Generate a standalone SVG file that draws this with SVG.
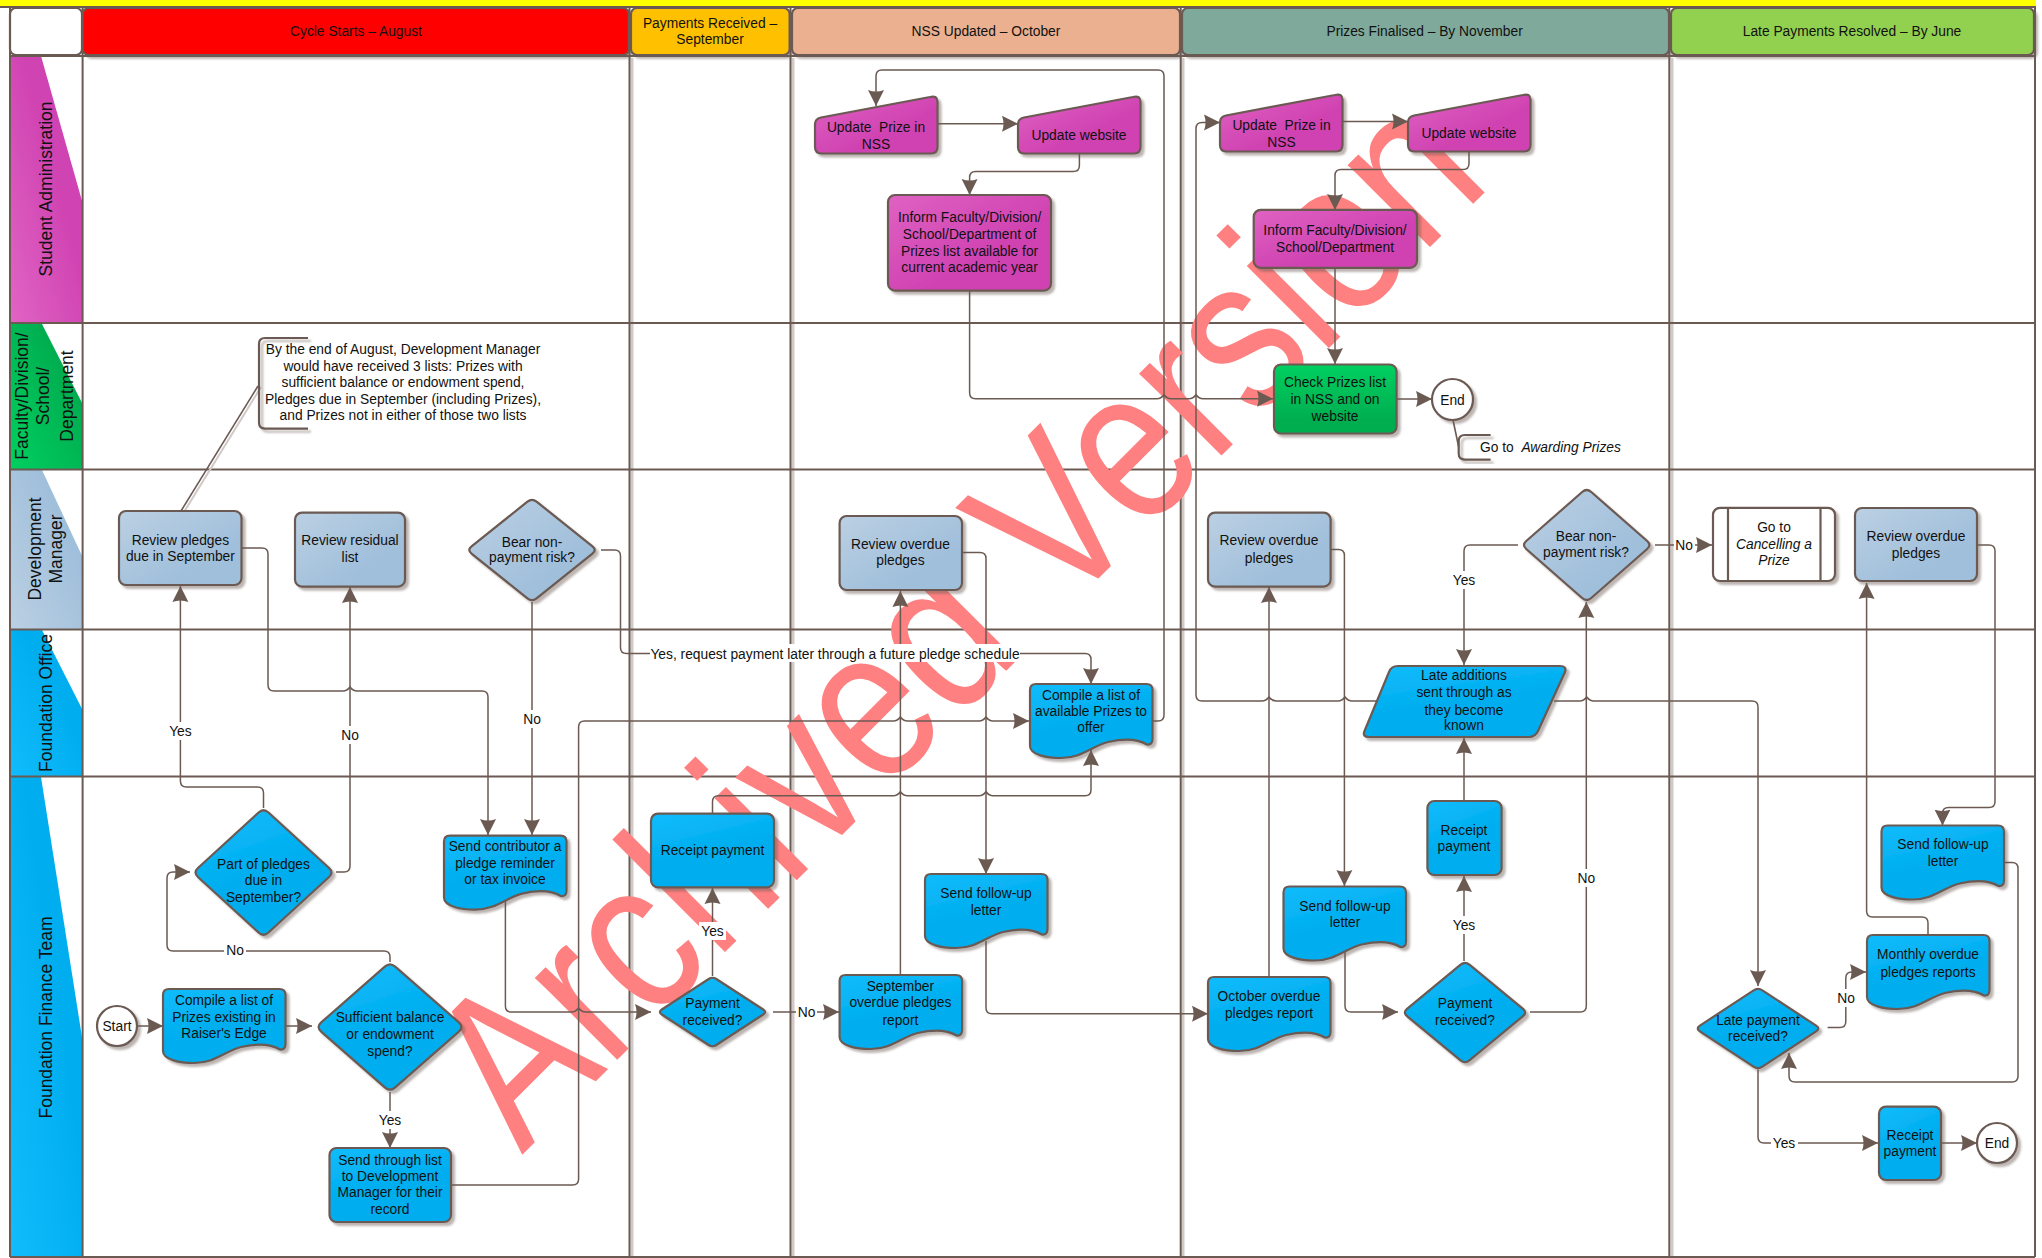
<svg xmlns="http://www.w3.org/2000/svg" width="2042" height="1258" viewBox="0 0 2042 1258">
<style>
text{font-family:"Liberation Sans",Arial,sans-serif;font-size:13.8px;fill:#111;text-anchor:middle}
.sh{filter:url(#ds)}
.o{stroke:#6B5A52;stroke-width:2.2;stroke-linejoin:round}
.b{fill:url(#gb)}.g{fill:url(#gg)}.m{fill:url(#gm)}.e{fill:url(#ge)}.w{fill:#fff}
.c{fill:none;stroke:#6B5A52;stroke-width:1.5;marker-end:url(#a)}
.gr{fill:none;stroke:#6B5A52;stroke-width:2}
.gs{fill:none;stroke:#CFCAC7;stroke-width:3}
.lb{fill:#fff}
.lane{font-size:17.5px}
.i{font-style:italic}
</style>
<defs>
<linearGradient id="gb" x1="0" y1="0" x2="0.4" y2="1"><stop offset="0" stop-color="#12BCFC"/><stop offset=".6" stop-color="#00AEEF"/></linearGradient>
<linearGradient id="gg" x1="0" y1="0" x2="1" y2="1"><stop offset="0" stop-color="#BBD0E3"/><stop offset=".7" stop-color="#A0BFDB"/></linearGradient>
<linearGradient id="gm" x1="0" y1="0" x2="1" y2="1"><stop offset="0" stop-color="#DF62C2"/><stop offset=".6" stop-color="#D043B2"/></linearGradient>
<linearGradient id="ge" x1="0" y1="0" x2="0" y2="1"><stop offset="0" stop-color="#00D060"/><stop offset=".8" stop-color="#00AE50"/></linearGradient>
<linearGradient id="lm" x1="0" y1="1" x2="1" y2="0"><stop offset="0" stop-color="#E065C4"/><stop offset=".6" stop-color="#D043B2"/></linearGradient>
<linearGradient id="lf" x1="0" y1="1" x2="1" y2="0"><stop offset="0" stop-color="#00D060"/><stop offset=".7" stop-color="#00AE50"/></linearGradient>
<linearGradient id="ld" x1="0" y1="1" x2="1" y2="0"><stop offset="0" stop-color="#BBD0E3"/><stop offset=".7" stop-color="#A0BFDB"/></linearGradient>
<linearGradient id="lb" x1="0" y1="1" x2="1" y2="0"><stop offset="0" stop-color="#12BCFC"/><stop offset=".6" stop-color="#00AEEF"/></linearGradient>
<filter id="ds" x="-10%" y="-10%" width="125%" height="125%"><feDropShadow dx="3" dy="3" stdDeviation="1.2" flood-color="#6B5A52" flood-opacity=".45"/></filter>
<marker id="a" markerUnits="userSpaceOnUse" markerWidth="17" markerHeight="17" viewBox="0 0 17 17" refX="16" refY="8.5" orient="auto"><path d="M0 .5L16 8.5L0 16.5Q3 8.5 0 .5Z" fill="#6B5A52"/></marker>
<path id="doc" d="M6 0H116.5Q122.5 0 122.5 6V55Q122.5 61 117 60.5C108 55 95 54 78 58C62 62 52 74 31 74C18 74 0 71 0 62V6Q0 0 6 0Z"/>
<path id="man" d="M0 28Q0 23 6 21.5L115 1Q122.5 -1 122.5 6V51Q122.5 57.5 116 57.5H6.5Q0 57.5 0 51Z"/>
</defs>
<rect width="2042" height="1258" fill="#fff"/>
<g id="swimlanes">
<rect x="0" y="0" width="2036" height="7" fill="#FFFF00"/>
<path class="gs" d="M632 58V1258M793 58V1258M1183 58V1258M1672 58V1258"/>
<g id="lane-headers">
<rect x="10" y="56" width="72.600" height="267" fill="url(#lm)"/><path d="M41 56H82.600V203Z" fill="#fff"/>
<rect x="10" y="324" width="72.600" height="145" fill="url(#lf)"/><path d="M42 324H82.600V404Z" fill="#fff"/>
<rect x="10" y="470" width="72.600" height="159" fill="url(#ld)"/><path d="M42 470H82.600V557Z" fill="#fff"/>
<rect x="10" y="630" width="72.600" height="146" fill="url(#lb)"/><path d="M42 630H82.600V710Z" fill="#fff"/>
<rect x="10" y="777" width="72.600" height="480" fill="url(#lb)"/><path d="M41 777H82.600V1041Z" fill="#fff"/>
</g>
<path class="gr" d="M0 7H2036M10 56H2035M10 323H2035M10 469.400H2035M10 629.400H2035M10 776.600H2035M10 1257H2035M10 7V1257M82.600 7V1257M629.500 7V1257M790.500 7V1257M1180.700 7V1257M1669.300 7V1257M2035 7V1257"/>
<g id="column-headers">
<rect x="10" y="8" width="72" height="47" rx="6" class="w o"/>
<g class="sh">
<rect x="82.600" y="8" width="546.400" height="47" rx="6" fill="#FF0000" class="o"/>
<rect x="631" y="8" width="158.600" height="47" rx="6" fill="#FFC000" class="o"/>
<rect x="792" y="8" width="388" height="47" rx="6" fill="#EAB08F" class="o"/>
<rect x="1182" y="8" width="487" height="47" rx="6" fill="#7FA99B" class="o"/>
<rect x="1671" y="8" width="363" height="47" rx="6" fill="#92D050" class="o"/>
</g>
<text x="356" y="36">Cycle Starts – August</text>
<text x="710" y="27.500">Payments Received –</text><text x="710" y="44">September</text>
<text x="986" y="36">NSS Updated – October</text>
<text x="1424.600" y="36">Prizes Finalised – By November</text>
<text x="1852" y="36">Late Payments Resolved – By June</text>
</g>
<g id="lane-labels">
<text class="lane" transform="translate(52 189) rotate(-90)">Student Administration</text>
<text class="lane" transform="translate(28 396) rotate(-90)">Faculty/Division/</text>
<text class="lane" transform="translate(49 396) rotate(-90)">School/</text>
<text class="lane" transform="translate(73 396) rotate(-90)">Department</text>
<text class="lane" transform="translate(41 549) rotate(-90)">Development</text>
<text class="lane" transform="translate(62 549) rotate(-90)">Manager</text>
<text class="lane" transform="translate(52 703) rotate(-90)">Foundation Office</text>
<text class="lane" transform="translate(52 1017.500) rotate(-90)">Foundation Finance Team</text>
</g>
</g>
<text id="watermark" transform="translate(522 1155) rotate(-45) scale(1 1.2)" style="font-size:183px;fill:#FF8080;text-anchor:start">Archived Version</text>
<g id="connectors">
<path class="c" d="M137 1026H163"/>
<path class="c" d="M285 1026H312"/>
<path class="c" d="M390 1092V1148"/>
<path class="c" d="M390 962V957Q390 951 384 951H173Q167 951 167 945V878Q167 872 173 872H190"/>
<path class="c" d="M263.500 808V793Q263.500 787 257.500 787H186.400Q180.400 787 180.400 781V586"/>
<path class="c" d="M336 872H344Q350 872 350 866V587"/>
<path class="c" d="M532 602V835"/>
<path class="c" d="M241.500 548H262Q268 548 268 554V685Q268 691 274 691H343Q347 691 350 687Q353 691 357 691H482Q488 691 488 697V835"/>
<path class="c" d="M601 550H614.500Q620.500 550 620.500 556V647.400Q620.500 653.400 626.500 653.400H1085Q1091 653.400 1091 659.400V684"/>
<path class="c" d="M451 1185H572.600Q578.600 1185 578.600 1179V727Q578.600 721 584.600 721H893.400Q897.400 721 900.400 717Q903.400 721 907.400 721H979Q983 721 986 717Q989 721 993 721H1029"/>
<path class="c" d="M505.400 900V1006Q505.400 1012 511.400 1012H571.600Q575.600 1012 578.600 1008Q581.600 1012 585.600 1012H651"/>
<path class="c" d="M712.500 976V888"/>
<path class="c" d="M773 1012H839"/>
<path class="c" d="M900.400 975V591"/>
<path class="c" d="M712.500 813.600V801.700Q712.500 795.700 718.500 795.700H893.400Q897.400 795.700 900.400 791.700Q903.400 795.700 907.400 795.700H979Q983 795.700 986 791.700Q989 795.700 993 795.700H1085Q1091 795.700 1091 789.700V750"/>
<path class="c" d="M962 552.600H980Q986 552.600 986 558.600V874"/>
<path class="c" d="M986 941V1007.800Q986 1013.800 992 1013.800H1208"/>
<path class="c" d="M1152 721H1158Q1164 721 1164 715V76Q1164 70 1158 70H882Q876 70 876 76V106"/>
<path class="c" d="M937.400 123.700H1018"/>
<path class="c" d="M1079.400 153.500V165.400Q1079.400 171.400 1073.400 171.400H975.600Q969.600 171.400 969.600 177.400V195"/>
<path class="c" d="M969.600 290.600V392.800Q969.600 398.800 975.600 398.800H1157Q1161 398.800 1164 394.800Q1167 398.800 1171 398.800H1189Q1193 398.800 1196 394.800Q1199 398.800 1203 398.800H1273"/>
<path class="c" d="M1377 701H1352Q1348 701 1345 697Q1342 701 1338 701H1276Q1272 701 1269 697Q1266 701 1262 701H1202Q1196 701 1196 695V128.400Q1196 122.400 1202 122.400H1220"/>
<path class="c" d="M1343 121.600H1408"/>
<path class="c" d="M1469 152V163.400Q1469 169.400 1463 169.400H1341Q1335 169.400 1335 175.400V210"/>
<path class="c" d="M1335 268V364"/>
<path class="c" d="M1396.600 399H1432"/>
<path class="c" d="M1330.600 549.400H1338.400Q1344.400 549.400 1344.400 555.400V886"/>
<path class="c" d="M1518 545H1470Q1464 545 1464 551V665"/>
<path class="c" d="M1655 545H1712"/>
<path class="c" d="M1977 545H1989Q1995 545 1995 551V801.500Q1995 807.500 1989 807.500H1948.500Q1942.500 807.500 1942.500 813.500V825.500"/>
<path class="c" d="M1464 801V738"/>
<path class="c" d="M1464 961V876"/>
<path class="c" d="M1530 1012H1580.300Q1586.300 1012 1586.300 1006V602"/>
<path class="c" d="M1345 951.600V1006Q1345 1012 1351 1012H1398"/>
<path class="c" d="M1269 977V587"/>
<path class="c" d="M1554 701H1579.700Q1583.700 701 1586.700 697Q1589.700 701 1593.700 701H1752Q1758 701 1758 707V986"/>
<path class="c" d="M1827.600 1027.600H1839.800Q1845.800 1027.600 1845.800 1021.600V978Q1845.800 972 1851.800 972H1866"/>
<path class="c" d="M1928 935V923Q1928 917 1922 917H1872.600Q1866.600 917 1866.600 911V583"/>
<path class="c" d="M2004 862.500H2012Q2018 862.500 2018 868.500V1076Q2018 1082 2012 1082H1795Q1789 1082 1789 1076V1053"/>
<path class="c" d="M1758 1069.500V1137Q1758 1143 1764 1143H1878"/>
<path class="c" d="M1941 1143H1977"/>
<g id="connector-labels">
<rect class="lb" x="167" y="722" width="27" height="18"/><text x="180.400" y="736">Yes</text>
<rect class="lb" x="339" y="726" width="22" height="18"/><text x="350" y="740">No</text>
<rect class="lb" x="521" y="710" width="22" height="18"/><text x="532" y="724">No</text>
<rect class="lb" x="224" y="941" width="22" height="18"/><text x="235" y="955">No</text>
<rect class="lb" x="377" y="1111" width="27" height="18"/><text x="390" y="1125">Yes</text>
<rect class="lb" x="650" y="644" width="370" height="18"/><text x="835" y="658.500">Yes, request payment later through a future pledge schedule</text>
<rect class="lb" x="699" y="922" width="27" height="18"/><text x="712.500" y="936">Yes</text>
<rect class="lb" x="796" y="1003" width="21" height="18"/><text x="806.600" y="1017">No</text>
<rect class="lb" x="1451" y="571" width="27" height="18"/><text x="1464" y="585">Yes</text>
<rect class="lb" x="1674" y="536" width="21" height="18"/><text x="1684" y="550">No</text>
<rect class="lb" x="1451" y="916" width="27" height="18"/><text x="1464" y="930">Yes</text>
<rect class="lb" x="1576" y="869" width="21" height="18"/><text x="1586.300" y="883">No</text>
<rect class="lb" x="1836" y="989" width="21" height="18"/><text x="1846" y="1003">No</text>
<rect class="lb" x="1771" y="1134" width="27" height="18"/><text x="1784" y="1148">Yes</text>
</g>
</g>
<g id="n-note1"><path d="M181 511L258 386" stroke="#CFCAC7" stroke-width="2" fill="none" transform="translate(3 1)"/><path d="M181 511L258 386" stroke="#6B5A52" stroke-width="1.600" fill="none"/><g class="sh"><path class="o" fill="none" d="M308 338H265Q259 338 259 344V422.600Q259 428.600 265 428.600H308"/></g>
<text x="403" y="354.400">By the end of August, Development Manager</text><text x="403" y="371">would have received 3 lists: Prizes with</text><text x="403" y="387.400">sufficient balance or endowment spend,</text><text x="403" y="404">Pledges due in September (including Prizes),</text><text x="403" y="420">and Prizes not in either of those two lists</text></g>
<g id="n-note2"><path d="M1453 420L1458.700 447" stroke="#6B5A52" stroke-width="1.600" fill="none"/><g class="sh"><path class="o" fill="none" d="M1490.600 435H1465Q1458.700 435 1458.700 441V453.600Q1458.700 459.600 1465 459.600H1490.600"/></g>
<text x="1480" y="451.500" xml:space="preserve" style="text-anchor:start">Go to  <tspan class="i">Awarding Prizes</tspan></text></g>
<g id="n-review-pledges"><g class="sh"><rect x="119" y="511" width="122.500" height="74" rx="7" class="g o"/></g><text x="180.400" y="544.600">Review pledges</text><text x="180.400" y="560.600">due in September</text></g>
<g id="n-review-residual"><g class="sh"><rect x="295" y="512.600" width="110" height="74" rx="7" class="g o"/></g><text x="350" y="545">Review residual</text><text x="350" y="562">list</text></g>
<g id="n-bear1"><g class="sh"><path class="g o" d="M527.450 501.640q4.550 -3.640 9.100 0l55.900 44.720q4.550 3.640 0 7.280l-55.900 44.720q-4.550 3.640 -9.100 0l-55.900 -44.720q-4.550 -3.640 0 -7.280z"/></g><text x="532" y="546.600">Bear non-</text><text x="532" y="562">payment risk?</text></g>
<g id="n-part-pledges"><g class="sh"><path class="b o" d="M258.560 812.520q4.940 -4.520 9.880 0l60.620 55.460q4.940 4.520 0 9.040l-60.620 55.460q-4.940 4.520 -9.880 0l-60.620 -55.460q-4.940 -4.520 0 -9.040z"/></g><text x="263.500" y="869">Part of pledges</text><text x="263.500" y="885.400">due in</text><text x="263.500" y="901.600">September?</text></g>
<g id="n-contributor"><g class="sh"><use href="#doc" class="b o" x="444" y="835.600"/></g><text x="505" y="851">Send contributor a</text><text x="505" y="868">pledge reminder</text><text x="505" y="884">or tax invoice</text></g>
<g id="n-start"><g class="sh"><circle cx="117" cy="1026" r="20" class="w o"/></g><text x="117" y="1031">Start</text></g>
<g id="n-compile1"><g class="sh"><use href="#doc" class="b o" x="163" y="989"/></g><text x="224" y="1005.400">Compile a list of</text><text x="224" y="1022">Prizes existing in</text><text x="224" y="1038.300">Raiser's Edge</text></g>
<g id="n-sufficient"><g class="sh"><path class="b o" d="M384.820 966.550q5.180 -4.550 10.360 0l63.640 55.900q5.180 4.550 0 9.100l-63.640 55.900q-5.180 4.550 -10.360 0l-63.640 -55.900q-5.180 -4.550 0 -9.100z"/></g><text x="390" y="1022">Sufficient balance</text><text x="390" y="1039">or endowment</text><text x="390" y="1056">spend?</text></g>
<g id="n-send-through"><g class="sh"><rect x="329.500" y="1148" width="121.500" height="74" rx="7" class="b o"/></g><text x="390" y="1164.500">Send through list</text><text x="390" y="1181">to Development</text><text x="390" y="1197.400">Manager for their</text><text x="390" y="1214">record</text></g>
<g id="n-receipt1"><g class="sh"><rect x="651" y="813.600" width="123" height="73.700" rx="7" class="b o"/></g><text x="712.500" y="855">Receipt payment</text></g>
<g id="n-payment1"><g class="sh"><path class="b o" d="M708.700 979q3.800 -2.500 7.600 0l46.900 30.500q3.800 2.500 0 5l-46.900 30.500q-3.800 2.500 -7.600 0l-46.900 -30.500q-3.800 -2.500 0 -5z"/></g><text x="712.500" y="1008">Payment</text><text x="712.500" y="1025">received?</text></g>
<g id="n-sept-report"><g class="sh"><use href="#doc" class="b o" x="839.600" y="975"/></g><text x="900.400" y="991">September</text><text x="900.400" y="1007.400">overdue pledges</text><text x="900.400" y="1024.500">report</text></g>
<g id="n-followup1"><g class="sh"><use href="#doc" class="b o" x="925" y="874"/></g><text x="986" y="898.400">Send follow-up</text><text x="986" y="915">letter</text></g>
<g id="n-compile2"><g class="sh"><use href="#doc" class="b o" x="1030" y="684"/></g><text x="1091" y="699.500">Compile a list of</text><text x="1091" y="716">available Prizes to</text><text x="1091" y="732.400">offer</text></g>
<g id="n-update-nss1"><g class="sh"><use href="#man" class="m o" x="815" y="96"/></g><text x="876" y="132.300" xml:space="preserve">Update  Prize in</text><text x="876" y="149">NSS</text></g>
<g id="n-update-web1"><g class="sh"><use href="#man" class="m o" x="1018" y="96"/></g><text x="1079" y="140">Update website</text></g>
<g id="n-inform1"><g class="sh"><rect x="888" y="195" width="163" height="95.600" rx="7" class="m o"/></g><text x="969.600" y="222">Inform Faculty/Division/</text><text x="969.600" y="239">School/Department of</text><text x="969.600" y="256.400">Prizes list available for</text><text x="969.600" y="272.300">current academic year</text></g>
<g id="n-review-oct"><g class="sh"><rect x="839.600" y="516" width="122.400" height="74" rx="7" class="g o"/></g><text x="900.400" y="549">Review overdue</text><text x="900.400" y="565.400">pledges</text></g>
<g id="n-update-nss2"><g class="sh"><use href="#man" class="m o" x="1220" y="94"/></g><text x="1281.500" y="130" xml:space="preserve">Update  Prize in</text><text x="1281.500" y="147">NSS</text></g>
<g id="n-update-web2"><g class="sh"><use href="#man" class="m o" x="1408" y="94"/></g><text x="1469" y="138">Update website</text></g>
<g id="n-inform2"><g class="sh"><rect x="1253.700" y="209.800" width="163.300" height="58" rx="7" class="m o"/></g><text x="1335" y="235">Inform Faculty/Division/</text><text x="1335" y="251.500">School/Department</text></g>
<g id="n-check"><g class="sh"><rect x="1274" y="364.500" width="122.600" height="69" rx="7" class="e o"/></g><text x="1335" y="387.400">Check Prizes list</text><text x="1335" y="403.800">in NSS and on</text><text x="1335" y="420.500">website</text></g>
<g id="n-end1"><g class="sh"><circle cx="1452.500" cy="399.500" r="20.500" class="w o"/></g><text x="1452.500" y="404.500">End</text></g>
<g id="n-review-nov"><g class="sh"><rect x="1208" y="512.600" width="122.600" height="74" rx="7" class="g o"/></g><text x="1269" y="545.400">Review overdue</text><text x="1269" y="562.600">pledges</text></g>
<g id="n-bear2"><g class="sh"><path class="g o" d="M1582.150 492q4.550 -4 9.100 0l55.900 49q4.550 4 0 8l-55.900 49q-4.550 4 -9.100 0l-55.900 -49q-4.550 -4 0 -8z"/></g><text x="1586" y="541.300">Bear non-</text><text x="1586" y="557">payment risk?</text></g>
<g id="n-cancelling"><g class="sh"><rect x="1713" y="507.800" width="122" height="73.200" rx="7" class="w o"/></g><path class="o" d="M1728 507.800V581M1820.500 507.800V581"/><text x="1774" y="532">Go to</text><text x="1774" y="549" class="i">Cancelling a</text><text x="1774" y="565" class="i">Prize</text></g>
<g id="n-review-jun"><g class="sh"><rect x="1855" y="508" width="122" height="73" rx="7" class="g o"/></g><text x="1916" y="541.300">Review overdue</text><text x="1916" y="557.700">pledges</text></g>
<g id="n-late-additions"><g class="sh"><path class="b o" d="M1398 666H1560Q1567 666 1565 672L1538 731Q1535 737 1529 737H1369Q1362 737 1364.500 731L1389 672Q1391 666 1398 666Z"/></g><text x="1464" y="680">Late additions</text><text x="1464" y="697.400">sent through as</text><text x="1464" y="714.500">they become</text><text x="1464" y="730.400">known</text></g>
<g id="n-receipt2"><g class="sh"><rect x="1427.400" y="801" width="74.200" height="74" rx="7" class="b o"/></g><text x="1464" y="834.500">Receipt</text><text x="1464" y="850.800">payment</text></g>
<g id="n-payment2"><g class="sh"><path class="b o" d="M1460.600 964.600q4.400 -3.600 8.800 0l53.600 44.300q4.400 3.600 0 7.200l-53.600 44.300q-4.400 3.600 -8.800 0l-53.600 -44.300q-4.400 -3.600 0 -7.200z"/></g><text x="1465" y="1008">Payment</text><text x="1465" y="1025">received?</text></g>
<g id="n-followup2"><g class="sh"><use href="#doc" class="b o" x="1283.500" y="886.500"/></g><text x="1345" y="910.600">Send follow-up</text><text x="1345" y="927.300">letter</text></g>
<g id="n-oct-report"><g class="sh"><use href="#doc" class="b o" x="1208" y="977"/></g><text x="1269" y="1001.300">October overdue</text><text x="1269" y="1017.600">pledges report</text></g>
<g id="n-late-payment"><g class="sh"><path class="b o" d="M1753.600 990.400q4.400 -2.900 8.800 0l53.700 35.200q4.400 2.900 0 5.800l-53.700 35.200q-4.400 2.900 -8.800 0l-53.700 -35.200q-4.400 -2.900 0 -5.800z"/></g><text x="1758" y="1024.500">Late payment</text><text x="1758" y="1040.800">received?</text></g>
<g id="n-monthly"><g class="sh"><use href="#doc" class="b o" x="1867" y="935"/></g><text x="1928" y="959.400">Monthly overdue</text><text x="1928" y="976.500">pledges reports</text></g>
<g id="n-followup3"><g class="sh"><use href="#doc" class="b o" x="1881.500" y="825.500"/></g><text x="1943" y="849">Send follow-up</text><text x="1943" y="866">letter</text></g>
<g id="n-receipt3"><g class="sh"><rect x="1879" y="1106.600" width="62" height="73.400" rx="7" class="b o"/></g><text x="1910" y="1139.600">Receipt</text><text x="1910" y="1156.300">payment</text></g>
<g id="n-end2"><g class="sh"><circle cx="1997" cy="1143" r="20" class="w o"/></g><text x="1997" y="1148">End</text></g>
</svg>
